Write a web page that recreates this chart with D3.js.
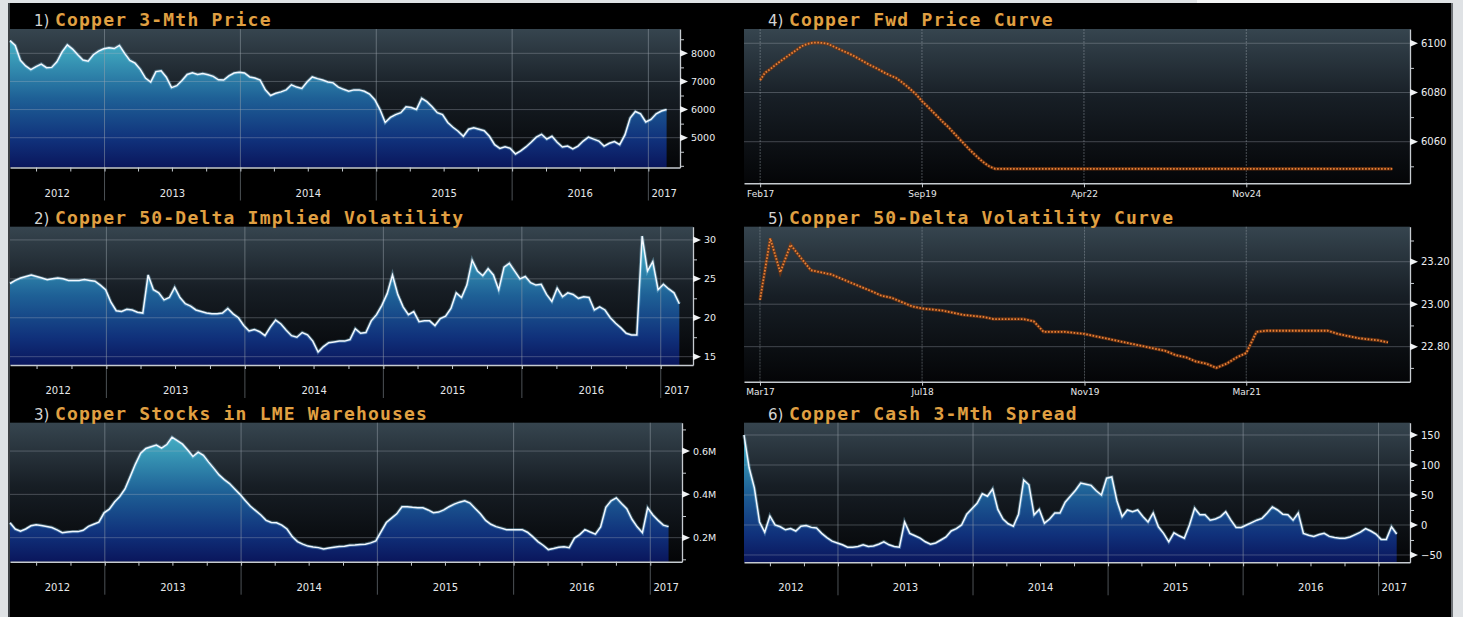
<!DOCTYPE html>
<html>
<head>
<meta charset="utf-8">
<title>Copper</title>
<script src="https://cdn.jsdelivr.net/npm/d3@7"></script>
<style>
	html, body { margin: 0; padding: 0; background: #dfe2e5; overflow: hidden; }
	svg { display: block; }
</style>
</head>
<body>
<svg id="board" width="1463" height="617"></svg>
<script>
// history series: one reading every 14 days from seriesStart
const seriesStart = new Date(2012, 3, 22);
const seriesDomain = [new Date(2012, 3, 22), new Date(2017, 2, 27)];

const copperPrice = [
	8450, 8280, 7750, 7550, 7420, 7530, 7620, 7490, 7500, 7700,
	8050, 8300, 8150, 7950, 7760, 7720, 7950, 8080, 8160, 8200,
	8170, 8280, 8000, 7750, 7650, 7430, 7120, 6980, 7350, 7380,
	7150, 6780, 6850, 7030, 7250, 7310, 7250, 7280, 7240, 7180,
	7060, 7050, 7200, 7300, 7330, 7300, 7160, 7120, 7050, 6700,
	6500, 6580, 6630, 6700, 6880, 6800, 6750, 6980, 7160, 7100,
	7050, 6980, 6950, 6800, 6720, 6650, 6700, 6700, 6650, 6550,
	6350, 6000, 5540, 5720, 5820, 5890, 6100, 6070, 6000, 6400,
	6280, 6100, 5890, 5820, 5540, 5370, 5230, 5050, 5300, 5350,
	5300, 5250, 5050, 4750, 4620, 4680, 4620, 4420, 4530, 4670,
	4840, 5020, 5120, 4950, 5050, 4840, 4670, 4700, 4600, 4700,
	4880, 5020, 4950, 4880, 4700, 4800, 4860, 4750, 5100, 5700,
	5930, 5850, 5560, 5650, 5850, 5950, 6000,
];

const impliedVol = [
	24.4, 24.8, 25.1, 25.3, 25.5, 25.3, 25.1, 24.9, 25.0, 25.1,
	25.0, 24.8, 24.8, 24.8, 24.9, 24.8, 24.7, 24.2, 23.6, 22.0,
	20.9, 20.8, 21.1, 21.0, 20.7, 20.6, 25.5, 23.6, 23.2, 22.3,
	22.6, 23.9, 22.6, 21.8, 21.5, 21.0, 20.8, 20.6, 20.5, 20.5,
	20.6, 21.2, 20.5, 20.0, 19.0, 18.3, 18.5, 18.2, 17.7, 18.8,
	19.7, 19.2, 18.4, 17.7, 17.5, 18.1, 17.8, 17.0, 15.6, 16.3,
	16.8, 16.9, 17.0, 17.0, 17.2, 18.6, 18.0, 18.1, 19.6, 20.4,
	21.6, 23.1, 25.5, 23.0, 21.4, 20.4, 20.8, 19.5, 19.6, 19.6,
	19.0, 19.9, 20.2, 21.2, 23.2, 22.6, 24.2, 27.4, 26.0, 25.4,
	26.3, 25.5, 23.6, 26.5, 27.0, 26.0, 25.0, 25.3, 24.5, 24.2,
	24.3, 23.0, 22.1, 23.8, 22.7, 23.2, 23.0, 22.5, 22.7, 22.6,
	21.0, 21.4, 21.0, 20.0, 19.3, 18.7, 18.0, 17.8, 17.8, 30.5,
	26.0, 27.2, 23.6, 24.3, 23.7, 23.2, 21.8,
];

// million tonnes
const lmeStocks = [
	0.269, 0.240, 0.230, 0.240, 0.255, 0.260, 0.256, 0.252, 0.247, 0.236,
	0.223, 0.226, 0.228, 0.228, 0.234, 0.252, 0.262, 0.272, 0.315, 0.332,
	0.365, 0.390, 0.425, 0.482, 0.540, 0.590, 0.612, 0.620, 0.628, 0.614,
	0.630, 0.664, 0.648, 0.632, 0.605, 0.575, 0.595, 0.580, 0.549, 0.520,
	0.490, 0.468, 0.450, 0.425, 0.400, 0.372, 0.345, 0.325, 0.305, 0.280,
	0.270, 0.269, 0.258, 0.240, 0.205, 0.182, 0.170, 0.161, 0.157, 0.154,
	0.148, 0.152, 0.156, 0.159, 0.160, 0.165, 0.166, 0.168, 0.170, 0.176,
	0.185, 0.228, 0.270, 0.290, 0.310, 0.343, 0.343, 0.340, 0.338, 0.338,
	0.328, 0.315, 0.318, 0.328, 0.343, 0.355, 0.364, 0.370, 0.360, 0.335,
	0.310, 0.280, 0.262, 0.251, 0.244, 0.237, 0.237, 0.237, 0.237, 0.225,
	0.205, 0.182, 0.165, 0.145, 0.150, 0.156, 0.158, 0.154, 0.198, 0.214,
	0.237, 0.226, 0.216, 0.250, 0.340, 0.370, 0.384, 0.358, 0.334, 0.285,
	0.250, 0.223, 0.338, 0.305, 0.280, 0.258, 0.251,
];

const cashSpread = [
	150, 95, 62, 5, -12, 15, 0, -3, -8, -6,
	-10, -2, -1, -4, -5, -14, -21, -27, -30, -33,
	-37, -37, -36, -33, -36, -35, -32, -28, -33, -36,
	-37, 5, -14, -18, -22, -28, -32, -30, -25, -20,
	-10, -6, 0, 18, 27, 36, 52, 48, 60, 26,
	10, 2, -2, 18, 75, 67, 17, 26, 3, 10,
	20, 20, 38, 48, 58, 70, 68, 66, 57, 50,
	78, 80, 40, 14, 25, 22, 25, 14, 5, 20,
	-3, -14, -28, -13, -18, -22, 0, 28, 17, 17,
	8, 10, 14, 22, 8, -4, -4, 0, 4, 8,
	11, 20, 30, 25, 18, 17, 8, 20, -14, -17,
	-19, -16, -14, -19, -21, -22, -22, -20, -16, -12,
	-6, -10, -15, -24, -24, -3, -15,
];

// curves: one point per month
const fwdCurveStart = new Date(2017, 1, 1);
const fwdCurve = [
	6085, 6088, 6089.5, 6091.2, 6092.8, 6094.3, 6095.8, 6097.3, 6098.8, 6099.7,
	6100.2, 6100.3, 6100.1, 6099.8, 6098.8, 6097.8, 6096.8, 6095.9, 6094.8, 6093.6,
	6092.4, 6091.2, 6090.2, 6089, 6087.8, 6086.9, 6086, 6084.5, 6082.8, 6081,
	6079, 6076.5, 6074.5, 6072.3, 6070.2, 6068, 6066, 6063.8, 6061.5, 6059.3,
	6057, 6055, 6053, 6051.2, 6049.8, 6049, 6049, 6049, 6049, 6049,
	6049, 6049, 6049, 6049, 6049, 6049, 6049, 6049, 6049, 6049,
	6049, 6049, 6049, 6049, 6049, 6049, 6049, 6049, 6049, 6049,
	6049, 6049, 6049, 6049, 6049, 6049, 6049, 6049, 6049, 6049,
	6049, 6049, 6049, 6049, 6049, 6049, 6049, 6049, 6049, 6049,
	6049, 6049, 6049, 6049, 6049, 6049, 6049, 6049, 6049, 6049,
	6049, 6049, 6049, 6049, 6049, 6049, 6049, 6049, 6049, 6049,
	6049, 6049, 6049, 6049, 6049, 6049, 6049, 6049, 6049, 6049,
	6049, 6049,
];

const volCurveStart = new Date(2017, 2, 1);
const volCurve = [
	23.02, 23.31, 23.15, 23.28, 23.22, 23.16, 23.15, 23.14, 23.12, 23.10,
	23.08, 23.06, 23.04, 23.03, 23.01, 22.99, 22.98, 22.975, 22.97, 22.96,
	22.95, 22.945, 22.94, 22.93, 22.93, 22.93, 22.93, 22.92, 22.87, 22.87,
	22.87, 22.865, 22.86, 22.85, 22.84, 22.83, 22.82, 22.81, 22.80, 22.79,
	22.78, 22.76, 22.75, 22.73, 22.72, 22.70, 22.72, 22.75, 22.77, 22.87,
	22.875, 22.875, 22.875, 22.875, 22.875, 22.875, 22.875, 22.86, 22.85, 22.84,
	22.835, 22.83, 22.82,
];

const yearLabels = ['2012', '2013', '2014', '2015', '2016', '2017'];
const priceTicks = [5000, 6000, 7000, 8000];
const volTicks = [15, 20, 25, 30];
const stockTicks = [0.2, 0.4, 0.6];
const spreadTicks = [-50, 0, 50, 100, 150];
const fwdTicks = [6060, 6080, 6100];
const volCurveTicks = [22.8, 23.0, 23.2];
const fwdDateTicks = ['Feb17', 'Sep19', 'Apr22', 'Nov24'];
const volDateTicks = ['Mar17', 'Jul18', 'Nov19', 'Mar21'];

const historyPanels = [
	{ num: '1)', title: 'Copper 3-Mth Price', values: copperPrice, ticks: priceTicks, step: 500, fmt: d3.format('d'),
		left: 10, right: 680, top: 29, bottom: 167.5, domain: [3940, 8865], labelSize: 9.5 },
	{ num: '2)', title: 'Copper 50-Delta Implied Volatility', values: impliedVol, ticks: volTicks, step: 2.5, fmt: d3.format('d'),
		left: 10, right: 693, top: 226.7, bottom: 365, domain: [13.93, 31.7], labelSize: 9.5 },
	{ num: '3)', title: 'Copper Stocks in LME Warehouses', values: lmeStocks, ticks: stockTicks, step: 0.1, fmt: d => d.toFixed(1) + 'M',
		left: 10, right: 682, top: 422.7, bottom: 561.7, domain: [0.089, 0.731], labelSize: 9.5 },
	{ num: '6)', title: 'Copper Cash 3-Mth Spread', values: cashSpread, ticks: spreadTicks, step: 25, fmt: d3.format('d'),
		left: 744, right: 1410, top: 422.7, bottom: 562.3, domain: [-62.2, 170.5], labelSize: 10 },
];

const curvePanels = [
	{ num: '4)', title: 'Copper Fwd Price Curve', values: fwdCurve, start: fwdCurveStart, dateTicks: fwdDateTicks,
		xDomain: [new Date(2016, 9, 30), new Date(2027, 5, 12)], ticks: fwdTicks, step: 10, fmt: d3.format('d'),
		left: 744, right: 1410, top: 29, bottom: 183.3, domain: [6043.1, 6105.8], labelSize: 10 },
	{ num: '5)', title: 'Copper 50-Delta Volatility Curve', values: volCurve, start: volCurveStart, dateTicks: volDateTicks,
		xDomain: [new Date(2017, 0, 12), new Date(2022, 6, 6)], ticks: volCurveTicks, step: 0.1, fmt: d => d.toFixed(2),
		left: 744, right: 1410, top: 226.7, bottom: 381.7, domain: [22.635, 23.365], labelSize: 10 },
];

const svg = d3.select('#board');
const width = Number(svg.attr('width'));
const height = Number(svg.attr('height'));
const defs = svg.append('defs');
const labelFont = "'DejaVu Sans', sans-serif";
const titleFont = "'DejaVu Sans Mono', monospace";

const bgGrad = defs.append('linearGradient')
	.attr('id', 'plotBg')
	.attr('x1', 0).attr('y1', 0).attr('x2', 0).attr('y2', 1);
[['0%', '#36454f'], ['45%', '#171e25'], ['100%', '#040507']].forEach(([o, c]) => {
	bgGrad.append('stop').attr('offset', o).attr('stop-color', c);
});

svg.append('rect').attr('width', width).attr('height', height).attr('fill', '#dfe2e5');
svg.append('rect').attr('x', 1197).attr('y', 0).attr('width', 193).attr('height', 3).attr('fill', '#f3f4f5');
svg.append('rect').attr('x', 8).attr('y', 3).attr('width', 1445).attr('height', height - 3).attr('fill', '#000');
svg.append('rect').attr('x', 8).attr('y', 3).attr('width', 2).attr('height', height - 3).attr('fill', '#3c4044');
svg.append('rect').attr('x', 1451).attr('y', 3).attr('width', 2).attr('height', height - 3).attr('fill', '#6e7276');

function areaGradient(id, p) {
	const grad = defs.append('linearGradient')
		.attr('id', id)
		.attr('gradientUnits', 'userSpaceOnUse')
		.attr('x1', 0).attr('y1', p.top).attr('x2', 0).attr('y2', p.bottom);
	[['0%', '#52bccd'], ['20%', '#3a9cb8'], ['50%', '#1e6096'], ['80%', '#10317b'], ['100%', '#0a165c']].forEach(([o, c]) => {
		grad.append('stop').attr('offset', o).attr('stop-color', c);
	});
}

function drawTitle(p) {
	svg.append('text')
		.attr('x', p.left + 24).attr('y', p.top - 3)
		.attr('font-family', labelFont).attr('font-size', 15)
		.attr('fill', '#d4d4d4')
		.text(p.num);
	svg.append('text')
		.attr('x', p.left + 45).attr('y', p.top - 3)
		.attr('font-family', titleFont).attr('font-size', 18)
		.attr('font-weight', 'bold')
		.attr('letter-spacing', 1.2)
		.attr('fill', '#e0a042')
		.text(p.title);
}

function drawFrame(g, p) {
	g.append('rect')
		.attr('x', p.left).attr('y', p.top)
		.attr('width', p.right - p.left).attr('height', p.bottom - p.top)
		.attr('fill', 'url(#plotBg)');
}

function drawGrid(g, p, y) {
	g.selectAll('line.hgrid').data(p.ticks).enter().append('line')
		.attr('class', 'hgrid')
		.attr('x1', p.left).attr('x2', p.right)
		.attr('y1', d => y(d)).attr('y2', d => y(d))
		.attr('stroke', '#b4bcc4').attr('stroke-opacity', 0.32).attr('stroke-width', 1);
}

function drawYAxis(g, p, y) {
	const minor = d3.range(Math.ceil(p.domain[0] / p.step - 1e-6) * p.step, p.domain[1], p.step)
		.filter(v => !p.ticks.some(t => Math.abs(t - v) < p.step / 10));
	const axisG = g.append('g').attr('transform', `translate(${p.right},0)`);
	axisG.append('g')
		.call(d3.axisRight(y).tickValues(minor).tickSize(4).tickSizeOuter(0).tickFormat(''));
	axisG.append('g')
		.call(d3.axisRight(y).tickValues(p.ticks).tickSize(0).tickSizeOuter(0).tickPadding(11).tickFormat(p.fmt))
		.call(a => a.select('.domain').remove());
	axisG.selectAll('.domain').attr('stroke', '#c6cbd0').attr('stroke-width', 1.3);
	axisG.selectAll('.tick line').attr('stroke', '#c6cbd0');
	axisG.selectAll('.tick text')
		.attr('fill', '#eceef0')
		.attr('font-family', labelFont)
		.attr('font-size', p.labelSize);
	axisG.selectAll('path.marker').data(p.ticks).enter().append('path')
		.attr('class', 'marker')
		.attr('d', d => `M0,${y(d) - 3.5}L8,${y(d)}L0,${y(d) + 3.5}Z`)
		.attr('fill', '#f0f2f4');
}

function drawHistory(p, i) {
	const g = svg.append('g');
	const x = d3.scaleTime().domain(seriesDomain).range([p.left, p.right]);
	const y = d3.scaleLinear().domain(p.domain).range([p.bottom, p.top]);
	const pts = p.values.map((v, k) => ({ date: d3.timeDay.offset(seriesStart, 14 * k), value: v }));
	const gradId = `areaGrad${i}`;
	areaGradient(gradId, p);

	drawFrame(g, p);

	const area = d3.area()
		.x(d => x(d.date))
		.y0(p.bottom)
		.y1(d => y(d.value));
	const line = d3.line()
		.x(d => x(d.date))
		.y(d => y(d.value));

	g.append('path').datum(pts).attr('d', area).attr('fill', `url(#${gradId})`);

	drawGrid(g, p, y);
	const years = d3.timeYear.range(seriesDomain[0], seriesDomain[1]).filter(d => d > seriesDomain[0]);
	g.selectAll('line.vgrid').data(years).enter().append('line')
		.attr('class', 'vgrid')
		.attr('x1', d => x(d)).attr('x2', d => x(d))
		.attr('y1', p.top).attr('y2', p.bottom + 33)
		.attr('stroke', '#9aa3ab').attr('stroke-opacity', 0.5).attr('stroke-width', 1);

	g.append('path').datum(pts).attr('d', line)
		.attr('fill', 'none').attr('stroke', '#8fd4f0').attr('stroke-opacity', 0.35).attr('stroke-width', 3.4);
	g.append('path').datum(pts).attr('d', line)
		.attr('fill', 'none').attr('stroke', '#f2f8ff').attr('stroke-width', 1.5);

	const xAxisG = g.append('g')
		.attr('transform', `translate(0,${p.bottom})`)
		.call(d3.axisBottom(x).ticks(d3.timeMonth.every(3)).tickSize(4).tickSizeOuter(0).tickFormat(''));
	xAxisG.select('.domain').attr('stroke', '#c6cbd0').attr('stroke-width', 1.5);
	xAxisG.selectAll('.tick line').attr('stroke', '#c6cbd0');

	const bounds = [p.left, ...years.map(x), p.right];
	g.selectAll('text.year').data(yearLabels).enter().append('text')
		.attr('class', 'year')
		.attr('x', (d, k) => (bounds[k] + bounds[k + 1]) / 2)
		.attr('y', p.bottom + 29)
		.attr('text-anchor', 'middle')
		.attr('font-family', labelFont).attr('font-size', 10)
		.attr('fill', '#e6e8ea')
		.text(d => d);

	drawYAxis(g, p, y);
	drawTitle(p);
}

function drawCurve(p) {
	const g = svg.append('g');
	const x = d3.scaleTime().domain(p.xDomain).range([p.left, p.right]);
	const y = d3.scaleLinear().domain(p.domain).range([p.bottom, p.top]);
	const pts = p.values.map((v, k) => ({ date: d3.timeMonth.offset(p.start, k), value: v }));
	const tickDates = p.dateTicks.map(d3.timeParse('%b%y'));

	drawFrame(g, p);
	drawGrid(g, p, y);
	g.selectAll('line.vgrid').data(tickDates).enter().append('line')
		.attr('class', 'vgrid')
		.attr('x1', d => x(d)).attr('x2', d => x(d))
		.attr('y1', p.top).attr('y2', p.bottom)
		.attr('stroke', '#aab3bb').attr('stroke-opacity', 0.4).attr('stroke-width', 1)
		.attr('stroke-dasharray', '2 1');

	const line = d3.line()
		.x(d => x(d.date))
		.y(d => y(d.value));
	g.append('path').datum(pts).attr('d', line)
		.attr('fill', 'none').attr('stroke', '#7a3810').attr('stroke-opacity', 0.7).attr('stroke-width', 3.4);
	g.append('path').datum(pts).attr('d', line)
		.attr('fill', 'none').attr('stroke', '#ec8236').attr('stroke-width', 1.8)
		.attr('stroke-dasharray', '1.6 1.6');

	const xAxisG = g.append('g')
		.attr('transform', `translate(0,${p.bottom})`)
		.call(d3.axisBottom(x).tickValues(tickDates).tickSize(4).tickSizeOuter(0).tickPadding(3)
			.tickFormat(d3.timeFormat('%b%y')));
	xAxisG.select('.domain').attr('stroke', '#c6cbd0').attr('stroke-width', 1.5);
	xAxisG.selectAll('.tick line').attr('stroke', '#c6cbd0');
	xAxisG.selectAll('.tick text')
		.attr('fill', '#e6e8ea')
		.attr('font-family', labelFont)
		.attr('font-size', 9);

	drawYAxis(g, p, y);
	drawTitle(p);
}

historyPanels.forEach(drawHistory);
curvePanels.forEach(drawCurve);
</script>
</body>
</html>
